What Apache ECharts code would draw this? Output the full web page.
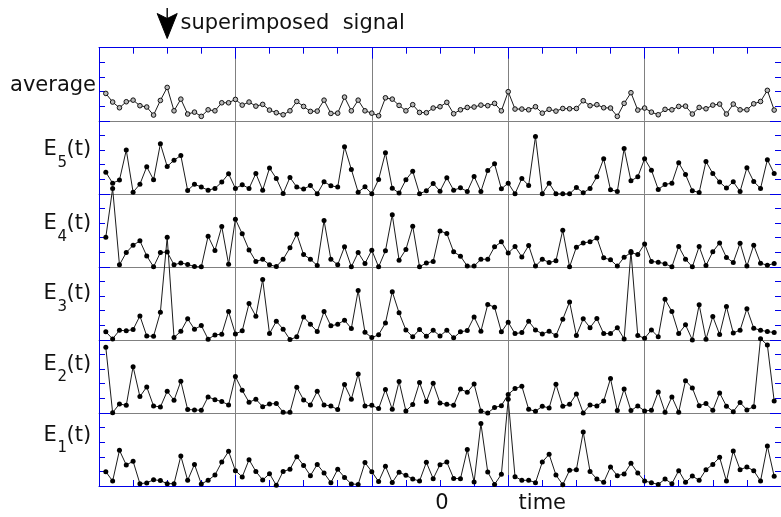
<!DOCTYPE html>
<html>
<head>
<meta charset="utf-8">
<script src="https://cdn.jsdelivr.net/npm/echarts@6/dist/echarts.min.js"></script>
<style>
  html, body { margin: 0; padding: 0; background: #ffffff; }
  #chart { width: 781px; height: 517px; }
</style>
</head>
<body>
<div id="chart"></div>
<script>
// Sampled trials E1..E5 and their average, one sample per time step (t = 1..99)
const average = [
  1.87, 1.28, 0.89, 1.30, 1.41, 1.03, 0.94, 0.39, 1.39, 2.28,
  0.68, 1.48, 0.46, 0.59, 0.30, 0.75, 0.68, 1.23, 1.23, 1.46,
  1.07, 1.28, 1.00, 1.12, 0.73, 0.55, 0.41, 0.68, 1.32, 0.98,
  0.64, 0.66, 1.41, 0.50, 0.52, 1.62, 0.68, 1.41, 0.68, 0.52,
  0.34, 1.57, 1.48, 1.05, 0.68, 1.10, 0.57, 0.55, 0.87, 0.96,
  1.26, 0.48, 0.75, 0.91, 0.94, 1.07, 1.03, 1.19, 0.68, 1.99,
  0.80, 0.80, 0.75, 0.96, 0.52, 0.78, 0.66, 0.84, 0.82, 0.84,
  1.37, 1.03, 1.10, 0.89, 0.87, 0.30, 1.19, 1.92, 0.73, 0.87,
  0.59, 0.41, 0.78, 0.75, 0.98, 1.00, 0.46, 0.91, 0.82, 1.07,
  1.14, 0.46, 1.14, 0.75, 0.75, 1.16, 1.32, 2.08, 0.73
];
const e5 = [
  1.48, 0.73, 0.94, 2.99, 0.11, 0.66, 1.85, 0.96, 3.42, 1.87,
  2.30, 2.62, 0.23, 0.66, 0.46, 0.25, 0.37, 0.80, 1.37, 0.37,
  0.62, 0.37, 1.39, 0.25, 1.76, 1.05, 0.02, 1.12, 0.46, 0.32,
  0.57, 0.00, 0.82, 0.55, 0.46, 3.22, 1.67, 0.11, 0.48, 0.00,
  0.98, 2.81, 0.38, 0.05, 0.96, 1.55, 0.00, 0.21, 0.71, 0.18,
  1.10, 0.25, 0.41, 0.16, 1.19, 0.16, 1.60, 2.05, 0.34, 0.73,
  0.00, 1.05, 0.57, 3.92, 0.00, 0.73, 0.00, 0.00, 0.00, 0.43,
  0.07, 0.37, 1.16, 2.40, 0.27, 0.16, 3.10, 0.89, 1.16, 2.40,
  1.62, 0.30, 0.64, 0.73, 2.12, 1.32, 0.21, 0.09, 2.21, 1.39,
  0.80, 0.39, 0.82, 0.16, 1.78, 0.84, 0.37, 2.33, 1.39
];
const e4 = [
  2.03, 5.36, 0.14, 0.98, 1.48, 1.78, 0.75, 0.00, 0.98, 1.02,
  0.14, 0.27, 0.16, 0.02, 0.00, 2.10, 1.12, 2.76, 0.18, 3.26,
  2.26, 1.16, 0.37, 0.52, 0.14, 0.02, 0.52, 1.30, 2.24, 0.84,
  0.52, 0.09, 3.17, 0.52, 0.14, 1.37, 0.00, 0.98, 0.23, 1.14,
  0.00, 1.10, 3.56, 0.46, 1.19, 2.78, 0.00, 0.27, 0.37, 2.46,
  2.28, 1.03, 0.73, 0.05, 0.05, 0.52, 0.52, 1.37, 1.71, 0.94,
  1.39, 0.68, 1.46, 0.05, 0.52, 0.30, 0.41, 2.51, 0.00, 1.35,
  1.64, 1.71, 1.98, 0.62, 0.48, 0.05, 0.66, 0.98, 0.84, 1.57,
  0.37, 0.32, 0.21, 0.00, 1.39, 0.52, 0.00, 1.39, 0.09, 1.03,
  1.64, 0.64, 0.30, 1.62, 0.05, 1.48, 0.25, 0.11, 0.23
];
const e3 = [
  0.55, 0.07, 0.66, 0.62, 0.71, 1.64, 0.27, 0.25, 1.89, 7.03,
  0.16, 0.59, 1.44, 0.73, 0.98, 0.05, 0.34, 0.39, 1.94, 0.41,
  0.62, 2.49, 1.62, 4.13, 0.43, 1.28, 0.73, 0.02, 0.21, 1.57,
  1.07, 0.57, 1.94, 0.96, 1.07, 1.35, 0.78, 3.38, 0.52, 0.16,
  0.35, 1.16, 3.30, 1.85, 0.68, 0.21, 0.71, 0.25, 0.66, 0.27,
  0.66, 0.14, 0.55, 0.64, 1.57, 0.59, 2.42, 2.24, 0.55, 1.21,
  0.43, 0.50, 1.28, 0.68, 0.41, 0.59, 0.30, 1.41, 2.60, 0.30,
  1.44, 0.84, 1.46, 0.43, 0.43, 0.84, 0.07, 6.05, 0.30, 0.11,
  0.68, 0.21, 2.78, 1.94, 0.43, 1.03, 0.00, 2.40, 0.05, 1.60,
  0.37, 2.28, 0.48, 0.66, 2.14, 0.80, 0.66, 0.57, 0.50
];
const e2 = [
  4.49, 0.02, 0.62, 0.52, 3.17, 1.12, 1.78, 0.48, 0.41, 1.48,
  0.87, 2.17, 0.23, 0.21, 0.18, 1.10, 0.91, 0.78, 0.55, 2.49,
  1.55, 0.73, 0.94, 0.43, 0.62, 0.64, 0.05, 0.05, 1.76, 0.89,
  0.55, 1.48, 0.55, 0.48, 0.23, 1.94, 0.94, 2.67, 0.48, 0.52,
  0.30, 1.60, 0.25, 2.15, 0.14, 0.57, 2.08, 0.78, 2.03, 0.68,
  0.59, 0.52, 1.64, 1.41, 1.98, 0.14, 0.00, 0.37, 0.50, 1.27,
  1.67, 1.83, 0.25, 0.11, 0.46, 0.34, 1.96, 0.46, 0.59, 1.30,
  0.00, 0.55, 0.48, 0.82, 2.35, 0.16, 1.64, 0.16, 0.48, 0.14,
  0.18, 1.44, 0.05, 1.10, 0.05, 2.21, 1.71, 0.50, 0.64, 0.18,
  1.37, 0.46, 0.09, 0.71, 0.21, 0.43, 5.08, 4.65, 0.82
];
const e1 = [
  0.98, 0.34, 2.44, 1.44, 1.69, 0.16, 0.21, 0.43, 0.37, 0.16,
  0.16, 2.05, 0.39, 1.48, 0.14, 0.39, 0.75, 1.64, 2.37, 1.05,
  0.62, 1.80, 1.00, 0.41, 0.84, 0.05, 1.00, 1.14, 2.01, 1.41,
  0.71, 1.48, 0.89, 0.23, 1.14, 0.59, 0.14, 0.11, 1.60, 0.98,
  0.30, 1.35, 0.24, 0.94, 0.73, 0.48, 0.34, 1.62, 0.50, 1.46,
  1.64, 0.52, 0.50, 2.49, 0.27, 4.27, 0.96, 0.11, 0.80, 5.93,
  0.64, 0.39, 0.39, 0.23, 1.64, 2.17, 0.75, 0.09, 1.07, 1.12,
  3.70, 1.00, 0.48, 0.25, 1.30, 0.71, 0.82, 1.55, 0.89, 0.34,
  0.23, 0.11, 0.48, 0.16, 1.05, 0.25, 0.68, 0.39, 1.12, 1.48,
  1.96, 0.34, 2.40, 1.12, 1.30, 1.05, 0.34, 2.74, 0.66
];

// Row names, top to bottom; subscripted trial numbers for the E rows
const rowNames = ['average', 'E', 'E', 'E', 'E', 'E'];
const rowSubs = ['', '5', '4', '3', '2', '1'];
const rowValues = [average, e5, e4, e3, e2, e1];

// Time stamps of the samples
const times = average.map((_, i) => i + 1);

// Annotation texts and where they sit on the time axis
const signalText = 'superimposed  signal';
const signalTime = 10;
const zeroText = '0';
const zeroTime = 50;
const axisTitle = 'time';
const axisTitleTime = 65;

// ---- layout and styling ----
const BLUE = '#0000e8';
const GRAY = '#808080';
const INK = '#1c1c1c';
const FONT = '"DejaVu Sans", Verdana, sans-serif';
const PLOT_LEFT = 99;
const PLOT_WIDTH = 686.6;   // the right frame edge runs just past the page edge
const PLOT_TOP = 47.7;
const ROW_H = 73.05;
const N = rowValues.length;

const chart = echarts.init(document.getElementById('chart'), null, { renderer: 'canvas' });

const grids = rowValues.map((_, k) => ({
  left: PLOT_LEFT, width: PLOT_WIDTH, top: PLOT_TOP + ROW_H * k, height: ROW_H
}));

// One bottom time axis per row: gray separator + gray vertical rules;
// the last row carries the blue ticked time axis.
const xAxes = rowValues.map((_, k) => {
  const last = k === N - 1;
  return {
    gridIndex: k, type: 'value', position: 'bottom', min: 0, max: 100, interval: 20,
    z: last ? 1 : 0,
    axisLine: { show: true, onZero: false, lineStyle: { color: last ? BLUE : GRAY, width: 1 } },
    axisTick: { show: last, inside: true, length: 11, lineStyle: { color: BLUE, width: 1 } },
    minorTick: { show: last, splitNumber: 4, length: 6, lineStyle: { color: BLUE, width: 1 } },
    axisLabel: { show: false },
    splitLine: { show: true, lineStyle: { color: GRAY, width: 1 } }
  };
});
// Ticked time axis along the top of the first row
xAxes.push({
  gridIndex: 0, type: 'value', position: 'top', min: 0, max: 100, interval: 20, z: 1,
  axisLine: { show: true, onZero: false, lineStyle: { color: BLUE, width: 1 } },
  axisTick: { show: true, inside: true, length: 11, lineStyle: { color: BLUE, width: 1 } },
  minorTick: { show: true, splitNumber: 4, length: 6, lineStyle: { color: BLUE, width: 1 } },
  axisLabel: { show: false },
  splitLine: { show: false }
});

// Left and right amplitude axes for each row
const yAxes = [];
rowValues.forEach((_, k) => {
  ['left', 'right'].forEach(pos => {
    yAxes.push({
      gridIndex: k, type: 'value', position: pos, min: 0, max: 5, interval: 5, z: 1,
      axisLine: { show: true, onZero: false, lineStyle: { color: BLUE, width: 1 } },
      axisTick: { show: true, inside: true, length: 11, lineStyle: { color: BLUE, width: 1 } },
      minorTick: { show: true, splitNumber: 5, length: 6, lineStyle: { color: BLUE, width: 1 } },
      axisLabel: { show: false },
      splitLine: { show: false }
    });
  });
});

const series = rowValues.map((vals, k) => {
  const isAverage = k === 0;
  return {
    type: 'line',
    name: rowNames[k] + rowSubs[k],
    xAxisIndex: k,
    yAxisIndex: 2 * k,
    data: times.map((t, i) => [t, vals[i]]),
    clip: false,
    symbol: 'circle',
    symbolSize: isAverage ? 4.6 : 5,
    showSymbol: true,
    lineStyle: { color: INK, width: 1 },
    itemStyle: isAverage
      ? { color: '#b8b8b8', borderColor: '#111111', borderWidth: 1 }
      : { color: '#000000', borderWidth: 0 },
    emphasis: { disabled: true },
    z: 3
  };
});

chart.setOption({
  animation: false,
  backgroundColor: '#ffffff',
  grid: grids,
  xAxis: xAxes,
  yAxis: yAxes,
  series: series
});

// ---- text labels and the signal marker ----
const MID = 0.346; // baseline-to-middle offset, in em
const MAIN = 21, SUB = 15;
const baselines = [92.7, 157.3, 231, 301.3, 371.7, 442.7];

const graphics = [];
rowValues.forEach((_, k) => {
  const base = baselines[k];
  if (!rowSubs[k]) {
    graphics.push({
      type: 'text', silent: true,
      style: { text: rowNames[k], x: 96, y: base - MAIN * MID, align: 'right', verticalAlign: 'middle',
               font: MAIN + 'px ' + FONT, fill: '#111111' }
    });
  } else {
    graphics.push({
      type: 'text', silent: true,
      style: { text: rowNames[k], x: 43.5, y: base - MAIN * MID, align: 'left', verticalAlign: 'middle',
               font: MAIN + 'px ' + FONT, fill: '#111111' }
    });
    graphics.push({
      type: 'text', silent: true,
      style: { text: rowSubs[k], x: 57.5, y: base + 11 - SUB * MID, align: 'left', verticalAlign: 'middle',
               font: SUB + 'px ' + FONT, fill: '#111111' }
    });
    graphics.push({
      type: 'text', silent: true,
      style: { text: '(t)', x: 66.5, y: base - MAIN * MID, align: 'left', verticalAlign: 'middle',
               font: MAIN + 'px ' + FONT, fill: '#111111' }
    });
  }
});

// Arrow marking where the signal was superimposed
const ax = chart.convertToPixel({ xAxisIndex: 0 }, signalTime);
graphics.push({
  type: 'line', silent: true,
  shape: { x1: ax, y1: 8, x2: ax, y2: 20 },
  style: { stroke: '#000000', lineWidth: 1.4 }
});
graphics.push({
  type: 'polygon', silent: true,
  shape: { points: [[ax - 10, 13.5], [ax, 18.5], [ax + 10, 13.5], [ax, 38.5]] },
  style: { fill: '#000000', stroke: '#000000', lineWidth: 1, lineJoin: 'round' }
});
graphics.push({
  type: 'text', silent: true,
  style: { text: signalText, x: 180.5, y: 30.7 - MAIN * MID, align: 'left', verticalAlign: 'middle',
           font: MAIN + 'px ' + FONT, fill: '#111111' }
});

// Time-axis texts under the bottom row
const zx = chart.convertToPixel({ xAxisIndex: N - 1 }, zeroTime);
const tx = chart.convertToPixel({ xAxisIndex: N - 1 }, axisTitleTime);
graphics.push({
  type: 'text', silent: true,
  style: { text: zeroText, x: zx + 2, y: 511 - MAIN * MID, align: 'center', verticalAlign: 'middle',
           font: MAIN + 'px ' + FONT, fill: '#111111' }
});
graphics.push({
  type: 'text', silent: true,
  style: { text: axisTitle, x: tx, y: 511 - MAIN * MID, align: 'center', verticalAlign: 'middle',
           font: MAIN + 'px ' + FONT, fill: '#111111' }
});

chart.setOption({ graphic: graphics });
</script>
</body>
</html>
